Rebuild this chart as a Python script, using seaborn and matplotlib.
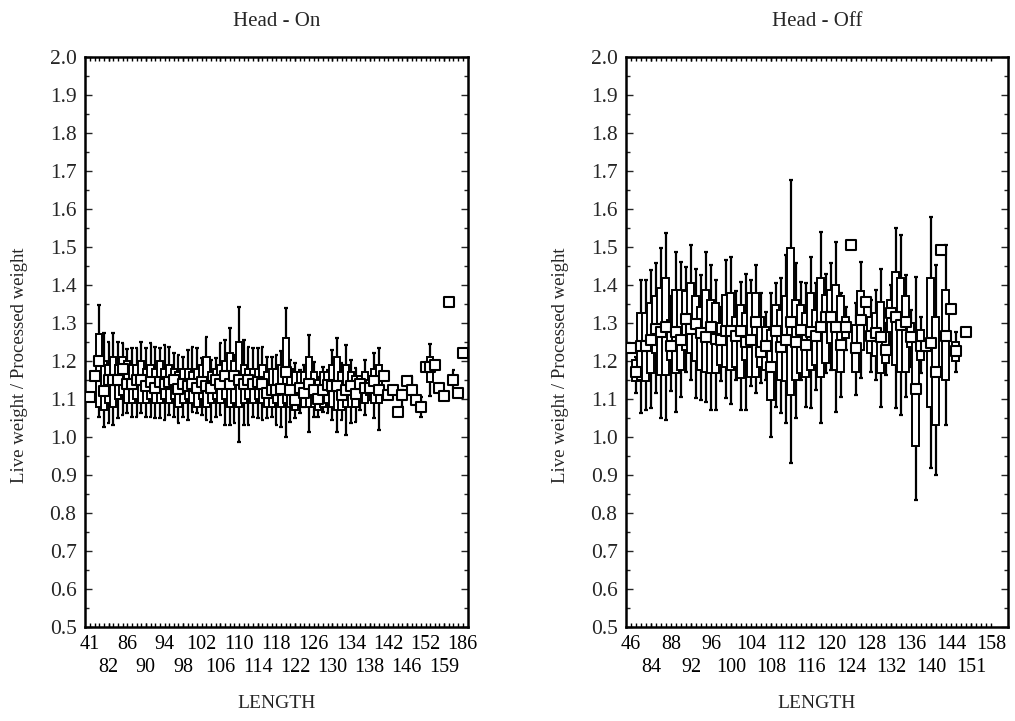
import numpy as np
import pandas as pd
import matplotlib
matplotlib.use("Agg")
import matplotlib.pyplot as plt
from matplotlib.ticker import MultipleLocator, FormatStrFormatter, FixedLocator
import seaborn as sns

nan = np.nan

# ---- Head - On : one entry per LENGTH category (mean, box, whiskers) ----
on_labels = ['41', '82', '86', '90', '94', '98', '102', '106', '110', '114', '118',
             '122', '126', '130', '134', '138', '142', '146', '152', '159', '186']
on_mean = [1.105, 1.16, 1.20, 1.12, 1.15, 1.15, 1.15, 1.18, 1.14, 1.14,
           1.15, 1.15, 1.135, 1.145, 1.13, 1.145, 1.14, 1.145, 1.15, 1.125,
           1.14, 1.135, 1.14, 1.13, 1.145, 1.135, 1.13, 1.15, 1.14, 1.16,
           1.14, 1.16, 1.15, 1.14, 1.15, 1.14, 1.145, 1.14, 1.115, 1.124,
           1.124, 1.125, 1.172, 1.124, 1.097, 1.128, 1.115, 1.14, 1.124, 1.10,
           1.124, 1.137, 1.133, 1.133, 1.11, 1.124, 1.133, 1.113, 1.14, 1.13,
           1.13, 1.146, 1.124, 1.16, 1.11, 1.124, 1.065, 1.11, 1.146, 1.124,
           1.098, 1.079, 1.183, 1.183, 1.19, 1.13, 1.108, 1.355, 1.15, 1.115, 1.22]
on_q1 = [nan, nan, 1.08, 1.07, 1.09, 1.08, 1.10, 1.11, 1.09, 1.09,
         1.10, 1.09, 1.09, 1.10, 1.09, 1.09, 1.10, 1.09, 1.10, 1.08,
         1.09, 1.10, 1.09, 1.08, 1.10, 1.08, 1.09, 1.10, 1.09, 1.10,
         1.08, 1.09, 1.08, 1.09, 1.10, 1.09, 1.10, 1.09, 1.08, 1.08,
         1.09, 1.08, 1.09, 1.08, 1.07, 1.09, 1.08, 1.08, 1.08, 1.07,
         1.08, 1.09, 1.08, 1.07, 1.07, 1.08, 1.08, 1.08, 1.10, 1.09,
         1.11, 1.09, 1.09, nan, nan, nan, nan, nan, nan, nan,
         nan, nan, nan, 1.145, nan, nan, nan, nan, nan, nan, nan]
on_q3 = [nan, nan, 1.27, 1.20, 1.19, 1.21, 1.19, 1.21, 1.20, 1.19,
         1.19, 1.20, 1.18, 1.19, 1.18, 1.20, 1.18, 1.19, 1.18, 1.17,
         1.18, 1.18, 1.17, 1.18, 1.19, 1.21, 1.17, 1.18, 1.19, 1.20,
         1.22, 1.20, 1.25, 1.19, 1.18, 1.18, 1.18, 1.19, 1.17, 1.18,
         1.18, 1.19, 1.26, 1.18, 1.17, 1.17, 1.17, 1.21, 1.17, 1.15,
         1.17, 1.17, 1.19, 1.21, 1.17, 1.19, 1.17, 1.16, 1.16, 1.17,
         1.15, 1.18, 1.19, nan, nan, nan, nan, nan, nan, nan,
         nan, nan, nan, 1.21, nan, nan, nan, nan, nan, nan, nan]
on_wlo = [nan, nan, 1.053, 1.027, 1.036, 1.032, 1.049, 1.058, 1.062, 1.053,
          1.053, 1.062, 1.053, 1.053, 1.049, 1.049, 1.045, 1.058, 1.053, 1.036,
          1.053, 1.045, 1.067, 1.062, 1.058, 1.045, 1.040, 1.053, 1.058, 1.032,
          1.032, 1.036, 0.988, 1.032, 1.032, 1.053, 1.049, 1.045, 1.049, 1.053,
          1.032, 1.027, 1.001, 1.040, 1.049, 1.062, 1.080, 1.014, 1.053, 1.053,
          1.067, 1.062, 1.045, 1.014, 1.045, 1.005, 1.036, 1.040, 1.071, 1.058,
          1.097, 1.049, 1.018, nan, nan, nan, nan, 1.080, nan, 1.10,
          nan, 1.053, nan, 1.107, nan, nan, nan, nan, 1.124, nan, nan]
on_whi = [nan, nan, 1.347, 1.273, 1.251, 1.273, 1.251, 1.247, 1.231, 1.233,
          1.233, 1.251, 1.233, 1.247, 1.238, 1.233, 1.243, 1.238, 1.220, 1.216,
          1.211, 1.229, 1.238, 1.233, 1.207, 1.264, 1.203, 1.207, 1.247, 1.255,
          1.286, 1.216, 1.343, 1.255, 1.238, 1.233, 1.233, 1.238, 1.211, 1.211,
          1.216, 1.225, 1.339, 1.203, 1.194, 1.177, 1.190, 1.268, 1.198, 1.159,
          1.185, 1.177, 1.229, 1.260, 1.194, 1.242, 1.203, 1.181, 1.154, 1.203,
          1.150, 1.220, 1.233, nan, nan, nan, nan, 1.124, nan, 1.16,
          nan, 1.106, nan, 1.245, nan, nan, nan, nan, 1.177, nan, nan]

# ---- Head - Off ----
off_labels = ['46', '84', '88', '92', '96', '100', '104', '108', '112', '116',
              '120', '124', '128', '132', '136', '140', '144', '151', '158']
off_mean = [1.233, 1.172, 1.240, 1.24, 1.254, 1.285, 1.276, 1.289, 1.24, 1.276,
            1.254, 1.31, 1.285, 1.298, 1.273, 1.263, 1.289, 1.258, 1.254, 1.28,
            1.28, 1.267, 1.28, 1.25, 1.254, 1.302, 1.224, 1.24, 1.185, 1.28,
            1.236, 1.254, 1.302, 1.251, 1.282, 1.242, 1.277, 1.266, 1.290, 1.317,
            1.315, 1.290, 1.242, 1.290, 1.505, 1.233, 1.308, 1.356, 1.266, 1.273,
            1.264, 1.229, 1.326, 1.315, 1.295, 1.303, 1.264, 1.126, 1.240, 1.240,
            1.248, 1.172, 1.492, 1.266, 1.336, 1.225, nan, 1.275, nan, nan,
            nan, nan, nan]
off_q1 = [nan, 1.146, 1.150, 1.146, 1.168, 1.220, 1.164, 1.164, 1.203, 1.168,
          1.176, 1.229, 1.220, 1.199, 1.176, 1.172, 1.168, 1.168, 1.190, 1.185,
          1.176, 1.185, 1.155, 1.203, 1.159, 1.159, 1.185, 1.176, 1.097, 1.181,
          1.150, 1.146, 1.111, 1.150, 1.168, 1.159, 1.176, 1.190, 1.159, 1.194,
          1.247, 1.176, 1.172, 1.260, nan, 1.172, 1.229, nan, 1.220, 1.212,
          1.168, 1.194, 1.277, 1.190, 1.172, 1.172, 1.238, 0.975, 1.203, nan,
          1.080, 1.032, nan, 1.150, nan, 1.199, nan, nan, nan, nan,
          nan, nan, nan]
off_q3 = [nan, 1.203, 1.326, 1.326, 1.352, 1.370, 1.391, 1.418, 1.308, 1.387,
          1.387, 1.383, 1.404, 1.370, 1.343, 1.387, 1.361, 1.352, 1.299, 1.374,
          1.378, 1.317, 1.348, 1.326, 1.378, 1.378, 1.317, 1.290, 1.282, 1.348,
          1.334, 1.370, 1.496, 1.361, 1.348, 1.326, 1.378, 1.334, 1.418, 1.374,
          1.387, 1.400, 1.370, 1.317, nan, 1.295, 1.383, nan, 1.317, 1.326,
          1.356, 1.277, 1.361, 1.435, 1.418, 1.370, 1.299, 1.255, 1.282, nan,
          1.418, 1.317, nan, 1.387, nan, 1.251, nan, nan, nan, nan,
          nan, nan, nan]
off_wlo = [nan, 1.115, 1.062, 1.071, 1.075, 1.115, 1.049, 1.045, 1.120, 1.066,
           1.106, 1.172, 1.150, 1.102, 1.097, 1.093, 1.071, 1.071, 1.146, 1.102,
           1.088, 1.150, 1.071, 1.071, 1.133, 1.115, 1.141, 1.150, 1.001, 1.080,
           1.062, 1.036, 0.932, 1.049, 1.150, 1.080, 1.075, 1.124, 1.036, 1.168,
           1.176, 1.066, 1.106, 1.229, nan, 1.111, 1.155, nan, 1.172, 1.150,
           1.080, 1.164, 1.238, 1.075, 1.057, 1.106, 1.185, 0.835, 1.168, nan,
           0.919, 0.901, nan, 1.032, nan, 1.172, nan, nan, nan, nan,
           nan, nan, nan]
off_whi = [nan, 1.210, 1.413, 1.413, 1.439, 1.457, 1.496, 1.536, 1.370, 1.487,
           1.461, 1.448, 1.505, 1.443, 1.426, 1.487, 1.452, 1.413, 1.343, 1.465,
           1.474, 1.383, 1.409, 1.430, 1.413, 1.452, 1.378, 1.330, 1.378, 1.404,
           1.418, 1.479, 1.676, 1.457, 1.409, 1.404, 1.474, 1.404, 1.540, 1.430,
           1.457, 1.514, 1.378, 1.343, nan, 1.352, 1.461, nan, 1.361, 1.387,
           1.443, 1.299, 1.400, 1.549, 1.532, 1.426, 1.334, 1.422, 1.317, nan,
           1.580, 1.452, nan, 1.505, nan, 1.277, nan, nan, nan, nan,
           nan, nan, nan]


def draw_panel(ax, mean, q1, q3, wlo, whi, labels, title, xlim, width):
    x = np.arange(len(mean))
    for i in x:
        z = 2 + i * 0.01
        if not np.isnan(whi[i]):
            ax.vlines(i, wlo[i], whi[i], color='black', lw=1.6, zorder=z)
            ax.hlines([wlo[i], whi[i]], i - 0.4, i + 0.4, color='black', lw=1.6, zorder=z)
        if not np.isnan(q1[i]):
            ax.bar(i, q3[i] - q1[i], bottom=q1[i], width=width, facecolor='white',
                   edgecolor='black', linewidth=1.4, zorder=z + 0.005)
    df = pd.DataFrame({'cat': x, 'mean': mean}).dropna()
    sns.scatterplot(data=df, x='cat', y='mean', marker='s', s=44, color='white',
                    edgecolor='black', linewidth=1.5, zorder=10, ax=ax, legend=False)

    # every category gets a tick; labels every 4th category, two staggered rows
    ticklabels = [''] * len(mean)
    row2_pos, row2_lab = [], []
    for k, lab in enumerate(labels):
        if k % 2 == 0:
            ticklabels[4 * k] = lab
        else:
            row2_pos.append(4 * k)
            row2_lab.append(lab)
    ax.set_xticks(x)
    ax.set_xticklabels(ticklabels)
    ax.xaxis.remove_overlapping_locs = False
    ax.xaxis.set_minor_locator(FixedLocator(row2_pos))
    ax.set_xticklabels(row2_lab, minor=True)
    ax.set_xlim(*xlim)
    ax.set_ylim(0.5, 2.0)
    ax.yaxis.set_major_locator(MultipleLocator(0.1))
    ax.yaxis.set_minor_locator(MultipleLocator(0.05))
    ax.yaxis.set_major_formatter(FormatStrFormatter('%.1f'))
    ax.tick_params(axis='x', which='major', direction='in', length=3, width=1,
                   top=True, bottom=True, labelsize=14.5, pad=6, colors='black')
    ax.tick_params(axis='x', which='minor', direction='in', length=3, width=1,
                   top=True, bottom=True, labelsize=14.5, pad=22, colors='black')
    ax.tick_params(axis='y', which='major', direction='in', length=5, width=1,
                   left=True, right=True, labelsize=15.5, pad=6)
    ax.tick_params(axis='y', which='minor', direction='in', length=3, width=1,
                   left=True, right=True)
    for s in ax.spines.values():
        s.set_linewidth(1.8)
        s.set_color('black')
        s.set_visible(True)
    ax.set_title(title, fontsize=15, pad=22)
    ax.set_xlabel('LENGTH', fontsize=14, labelpad=13)
    ax.set_ylabel('Live weight / Processed weight', fontsize=13.5)
    ax.yaxis.set_label_coords(-0.15, 0.46)
    ax.grid(False)


sns.set_style('ticks')
plt.rcParams['font.family'] = ['Liberation Serif', 'DejaVu Serif']

fig = plt.figure(figsize=(10.15, 7.21), dpi=100)
ax1 = fig.add_axes([0.0837, 0.1304, 0.3773, 0.7906])
ax2 = fig.add_axes([0.6167, 0.1304, 0.3764, 0.7906])

draw_panel(ax1, on_mean, on_q1, on_q3, on_wlo, on_whi, on_labels, 'Head - On',
           (-1.07, 81.1), 1.35)
draw_panel(ax2, off_mean, off_q1, off_q3, off_wlo, off_whi, off_labels, 'Head - Off',
           (-1.0, 75.4), 1.4)

fig.savefig('out.png', dpi=100, facecolor='white')
